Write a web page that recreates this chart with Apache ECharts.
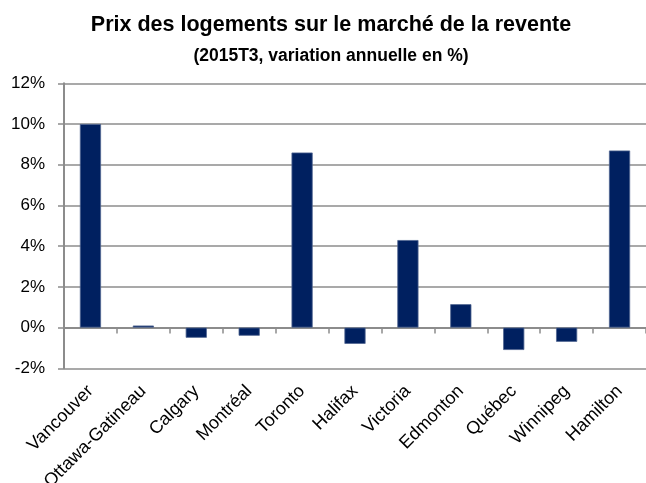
<!DOCTYPE html>
<html>
<head>
<meta charset="utf-8">
<script src="https://cdn.jsdelivr.net/npm/echarts@6/dist/echarts.min.js"></script>
<style>
html,body{margin:0;padding:0;background:#fff;}
#chart{width:646px;height:483px;}
</style>
</head>
<body>
<div id="chart"></div>
<script>
const categories = ["Vancouver","Ottawa-Gatineau","Calgary","Montréal","Toronto","Halifax","Victoria","Edmonton","Québec","Winnipeg","Hamilton"];
const values = [10.0, 0.1, -0.5, -0.4, 8.6, -0.8, 4.3, 1.15, -1.1, -0.7, 8.7];
const yMin = -2, yMax = 12, yStep = 2;
const titleText = "Prix des logements sur le marché de la revente";
const subtitleText = "(2015T3, variation annuelle en %)";

const chart = echarts.init(document.getElementById('chart'), null, {renderer:'canvas'});
const fontFam = '"Liberation Sans", Arial, sans-serif';
const gridColor = '#8c8c8c';
chart.setOption({
  animation: false,
  backgroundColor: '#fff',
  title: [{
    text: titleText,
    left: 331, top: 14, textAlign: 'center', padding: 0,
    textStyle: {fontFamily: fontFam, fontWeight: 'bold', fontSize: 21.5, color: '#000'}
  },{
    text: subtitleText,
    left: 331, top: 47, textAlign: 'center', padding: 0,
    textStyle: {fontFamily: fontFam, fontWeight: 'bold', fontSize: 17.5, color: '#000'}
  }],
  grid: {left: 64, right: 0, top: 83.3, bottom: 114.7, containLabel: false, outerBoundsMode: 'none'},
  xAxis: [{
    type: 'category', data: categories, position: 'bottom',
    axisLine: {show: false, onZero: false},
    axisTick: {show: false},
    axisLabel: {rotate: 45, margin: 20, fontFamily: fontFam, fontSize: 18, color: '#000', interval: 0}
  },{
    type: 'category', data: categories, position: 'bottom',
    axisLine: {show: true, onZero: true, lineStyle: {color: gridColor, width: 2}},
    axisTick: {show: true, length: 6, lineStyle: {color: gridColor, width: 1.5}, interval: 0},
    axisLabel: {show: false}
  }],
  yAxis: {
    type: 'value', min: yMin, max: yMax, interval: yStep,
    axisLine: {show: true, lineStyle: {color: gridColor, width: 2}},
    axisTick: {show: true, length: 6, lineStyle: {color: gridColor, width: 1.5}},
    splitLine: {show: true, lineStyle: {color: gridColor, width: 1.5}},
    axisLabel: {formatter: v => v + '%', margin: 19, fontFamily: fontFam, fontSize: 17, color: '#000'}
  },
  series: [{
    type: 'bar', data: values, xAxisIndex: 0, barWidth: '40%',
    itemStyle: {color: '#002060', borderColor: '#4f6590', borderWidth: 0.8}
  }]
});
</script>
</body>
</html>
